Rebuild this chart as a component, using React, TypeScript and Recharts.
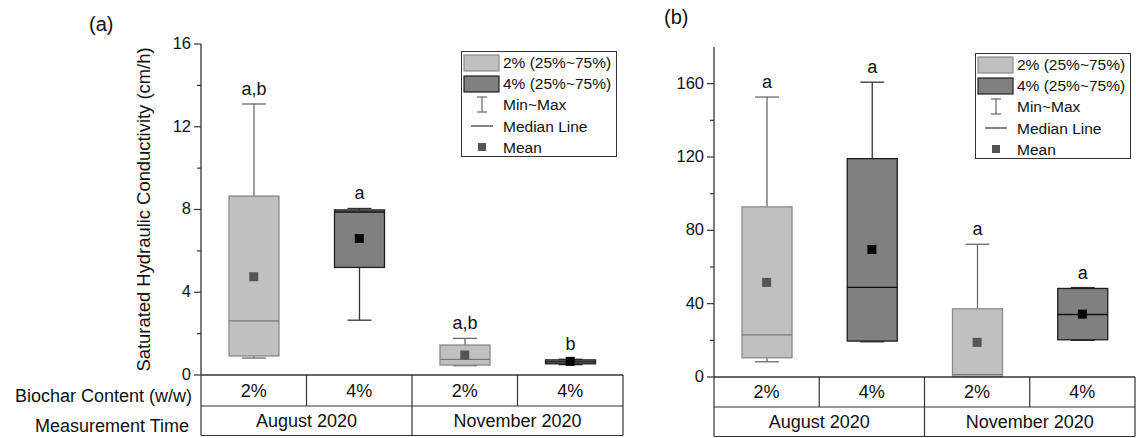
import React from 'react';
import { ComposedChart, Bar, Scatter, XAxis, YAxis, Legend, LabelList } from 'recharts';

// shared categories
const biochar = ['2%', '4%', '2%', '4%'];
const months = ['August 2020', 'November 2020'];
const legendLabels = ['2% (25%~75%)', '4% (25%~75%)', 'Min~Max', 'Median Line', 'Mean'];

// panel (a) - saturated hydraulic conductivity (cm/h)
const minA = [0.82, 2.65, 0.45, 0.5];
const q1A = [0.92, 5.2, 0.48, 0.54];
const medianA = [2.62, 7.88, 0.76, 0.63];
const q3A = [8.65, 7.98, 1.45, 0.73];
const maxA = [13.1, 8.05, 1.77, 0.76];
const meanA = [4.75, 6.6, 0.97, 0.66];
const lettersA = ['a,b', 'a', 'a,b', 'b'];
const ticksA = [0, 2, 4, 6, 8, 10, 12, 14, 16];
const majorA = [0, 4, 8, 12, 16];

// panel (b)
const minB = [8.3, 19.2, 0.1, 20];
const q1B = [10.5, 19.6, 0.2, 20.3];
const medianB = [23, 48.9, 1.3, 34.1];
const q3B = [92.8, 119.1, 37.2, 48.3];
const maxB = [152.7, 160.8, 72.4, 48.8];
const meanB = [51.6, 69.5, 18.9, 34.3];
const lettersB = ['a', 'a', 'a', 'a'];
const ticksB = [0, 20, 40, 60, 80, 100, 120, 140, 160];
const majorB = [0, 40, 80, 120, 160];

const FONT = "'Liberation Sans', Arial, Helvetica, sans-serif";

const boxLook: Record<string, any> = {
  '2%': { fill: '#c0c0c0', stroke: '#8a8a8a', median: '#777777', whisker: '#6a6a6a', mean: '#555555' },
  '4%': { fill: '#808080', stroke: '#1e1e1e', median: '#111111', whisker: '#333333', mean: '#000000' },
};

const build = (mn, q1, md, q3, mx, mean, letters) =>
  biochar.map((b, i) => ({
    id: `c${i}`,
    biochar: b,
    range: [mn[i], mx[i]],
    min: mn[i],
    q1: q1[i],
    median: md[i],
    q3: q3[i],
    max: mx[i],
    mean: mean[i],
    letter: letters[i],
  }));

const dataA = build(minA, q1A, medianA, q3A, maxA, meanA, lettersA);
const dataB = build(minB, q1B, medianB, q3B, maxB, meanB, lettersB);

// whole box drawn from the [min, max] bar the library positions
const BoxShape = (props: any) => {
  const { x, y, width, height, payload: d } = props;
  if (!d) return null;
  const look = boxLook[d.biochar];
  const span = d.max - d.min || 1;
  const py = (v: number) => y + ((d.max - v) / span) * height;
  const cx = x + width / 2;
  const cap = 12;
  const sw = 1.3;
  return (
    <g>
      <line x1={cx} x2={cx} y1={py(d.max)} y2={py(d.q3)} stroke={look.whisker} strokeWidth={sw} />
      <line x1={cx} x2={cx} y1={py(d.q1)} y2={py(d.min)} stroke={look.whisker} strokeWidth={sw} />
      <line x1={cx - cap} x2={cx + cap} y1={py(d.max)} y2={py(d.max)} stroke={look.whisker} strokeWidth={sw} />
      <line x1={cx - cap} x2={cx + cap} y1={py(d.min)} y2={py(d.min)} stroke={look.whisker} strokeWidth={sw} />
      <rect
        x={x}
        y={py(d.q3)}
        width={width}
        height={Math.max(py(d.q1) - py(d.q3), 0.5)}
        fill={look.fill}
        stroke={look.stroke}
        strokeWidth={sw}
      />
      <line x1={x} x2={x + width} y1={py(d.median)} y2={py(d.median)} stroke={look.median} strokeWidth={sw} />
    </g>
  );
};

const MeanShape = (props: any) => {
  const { cx, cy, payload } = props;
  if (cx == null || cy == null) return null;
  return <rect x={cx - 4.5} y={cy - 4.5} width={9} height={9} fill={boxLook[payload.biochar].mean} />;
};

const makeYTick = (majors: number[]) => (props: any) => {
  const { x, y, payload } = props;
  const major = majors.includes(payload.value);
  return (
    <g>
      <line x1={x - (major ? 7 : 4)} x2={x} y1={y} y2={y} stroke="#333" strokeWidth={1.2} />
      {major && (
        <text x={x - 10} y={y - 1} dy="0.36em" textAnchor="end" fontSize={16.5} fill="#111" fontFamily={FONT}>
          {payload.value}
        </text>
      )}
    </g>
  );
};

const makeTableTick = (bw: number, row1: number, total: number, rowTitles: boolean) => (props: any) => {
  const { x, y, index } = props;
  const left = x - bw / 2;
  const right = x + bw / 2;
  const line = '#333';
  const txt = { fontSize: 18, fill: '#111', fontFamily: FONT } as any;
  const fullDivider = index % 2 === 1;
  return (
    <g>
      <text x={x} y={y + row1 / 2} dy="0.36em" textAnchor="middle" {...txt}>
        {biochar[index]}
      </text>
      <line x1={right} x2={right} y1={y} y2={y + (fullDivider ? total : row1)} stroke={line} strokeWidth={1.2} />
      {index % 2 === 0 && (
        <text x={right} y={y + row1 + (total - row1) / 2} dy="0.36em" textAnchor="middle" {...txt}>
          {months[index / 2]}
        </text>
      )}
      {index === 0 && (
        <g>
          <line x1={left} x2={left} y1={y} y2={y + total} stroke={line} strokeWidth={1.2} />
          <line x1={left} x2={left + bw * 4} y1={y + row1} y2={y + row1} stroke={line} strokeWidth={1.2} />
          <line x1={left} x2={left + bw * 4} y1={y + total} y2={y + total} stroke={line} strokeWidth={1.2} />
          {rowTitles && (
            <g>
              <text x={left - 9} y={y + row1 / 2 + 5} dy="0.36em" textAnchor="end" {...txt}>
                Biochar Content (w/w)
              </text>
              <text x={left - 12} y={y + row1 + (total - row1) / 2 + 5} dy="0.36em" textAnchor="end" {...txt}>
                Measurement Time
              </text>
            </g>
          )}
        </g>
      )}
    </g>
  );
};

const LegendBox = () => {
  const rowsY = [11, 32, 53, 75, 96];
  return (
    <div
      style={{
        position: 'relative',
        width: 156,
        height: 106,
        boxSizing: 'border-box',
        border: '1px solid #333',
        background: '#fff',
        fontFamily: FONT,
        fontSize: 15.5,
        color: '#111',
      }}
    >
      <svg width={154} height={104} style={{ position: 'absolute', left: 0, top: 0 }}>
        <rect x={2} y={3} width={35} height={16} fill="#c0c0c0" stroke="#8a8a8a" strokeWidth={1.2} />
        <rect x={2} y={24} width={35} height={16} fill="#808080" stroke="#1e1e1e" strokeWidth={1.2} />
        <line x1={20} x2={20} y1={45} y2={60} stroke="#666" strokeWidth={1.2} />
        <line x1={15} x2={25} y1={45} y2={45} stroke="#666" strokeWidth={1.2} />
        <line x1={15} x2={25} y1={60} y2={60} stroke="#666" strokeWidth={1.2} />
        <line x1={9} x2={31} y1={74} y2={74} stroke="#333" strokeWidth={1.2} />
        <rect x={16} y={91} width={8} height={8} fill="#555" />
      </svg>
      {legendLabels.map((l, i) => (
        <div
          key={l}
          style={{ position: 'absolute', left: 41, top: rowsY[i] - 10, height: 20, lineHeight: '20px', whiteSpace: 'nowrap' }}
        >
          {l}
        </div>
      ))}
    </div>
  );
};

const Panel = ({ data, left, width, margin, yWidth, xHeight, row1, domain, ticks, majors, yLabel, legendPos, rowTitles }: any) => {
  const plotW = width - margin.left - margin.right - yWidth;
  const bw = plotW / 4;
  return (
    <div style={{ position: 'absolute', left, top: 0 }}>
      <ComposedChart width={width} height={438} data={data} margin={margin}>
        <XAxis
          dataKey="id"
          type="category"
          height={xHeight}
          interval={0}
          tickSize={0}
          tickMargin={0}
          tickLine={false}
          axisLine={{ stroke: '#333', strokeWidth: 1.3 }}
          tick={makeTableTick(bw, row1, xHeight - 0.5, rowTitles)}
        />
        <XAxis xAxisId="top" dataKey="id" orientation="top" height={0} tick={false} tickLine={false} axisLine={{ stroke: '#333', strokeWidth: 1.3 }} />
        <YAxis
          type="number"
          domain={domain}
          ticks={ticks}
          width={yWidth}
          interval={0}
          tickSize={0}
          tickMargin={0}
          tickLine={false}
          axisLine={{ stroke: '#333', strokeWidth: 1.3 }}
          tick={makeYTick(majors)}
          label={
            yLabel
              ? {
                  value: yLabel,
                  angle: -90,
                  position: 'insideLeft',
                  offset: 6,
                  dx: -4,
                  style: { textAnchor: 'middle', fontSize: 18.4, fill: '#111', fontFamily: FONT },
                }
              : undefined
          }
        />
        <YAxis yAxisId="right" orientation="right" type="number" domain={domain} width={0} tick={false} tickLine={false} axisLine={{ stroke: '#333', strokeWidth: 1.3 }} />
        <Legend
          layout="vertical"
          align="center"
          verticalAlign="middle"
          content={() => <LegendBox />}
          wrapperStyle={{ left: legendPos.left, top: legendPos.top, width: 156, height: 106 }}
        />
        <Bar dataKey="range" barSize={50} shape={BoxShape} isAnimationActive={false} legendType="none">
          <LabelList dataKey="letter" position="top" offset={9} fontSize={18} fill="#111" fontFamily={FONT} />
        </Bar>
        <Scatter dataKey="mean" shape={MeanShape} isAnimationActive={false} legendType="none" />
      </ComposedChart>
    </div>
  );
};

export default function App() {
  return (
    <div style={{ position: 'absolute', left: 0, top: 0, width: 1136, height: 438, background: '#fff', overflow: 'hidden' }}>
      <div style={{ position: 'absolute', left: 89, top: 14, fontFamily: FONT, fontSize: 20, lineHeight: '20px', color: '#111' }}>(a)</div>
      <div style={{ position: 'absolute', left: 664, top: 7, fontFamily: FONT, fontSize: 20, lineHeight: '20px', color: '#111' }}>(b)</div>
      <Panel
        data={dataA}
        left={0}
        width={640}
        margin={{ top: 44, right: 17, bottom: 2, left: 141 }}
        yWidth={60}
        xHeight={61}
        row1={31}
        domain={[0, 16]}
        ticks={ticksA}
        majors={majorA}
        yLabel="Saturated Hydraulic Conductivity (cm/h)"
        legendPos={{ left: 461, top: 51 }}
        rowTitles
      />
      <Panel
        data={dataB}
        left={580}
        width={556}
        margin={{ top: 47, right: 1, bottom: 1, left: 74 }}
        yWidth={60}
        xHeight={60}
        row1={30}
        domain={[0, 180]}
        ticks={ticksB}
        majors={majorB}
        legendPos={{ left: 395, top: 53 }}
        rowTitles={false}
      />
    </div>
  );
}
